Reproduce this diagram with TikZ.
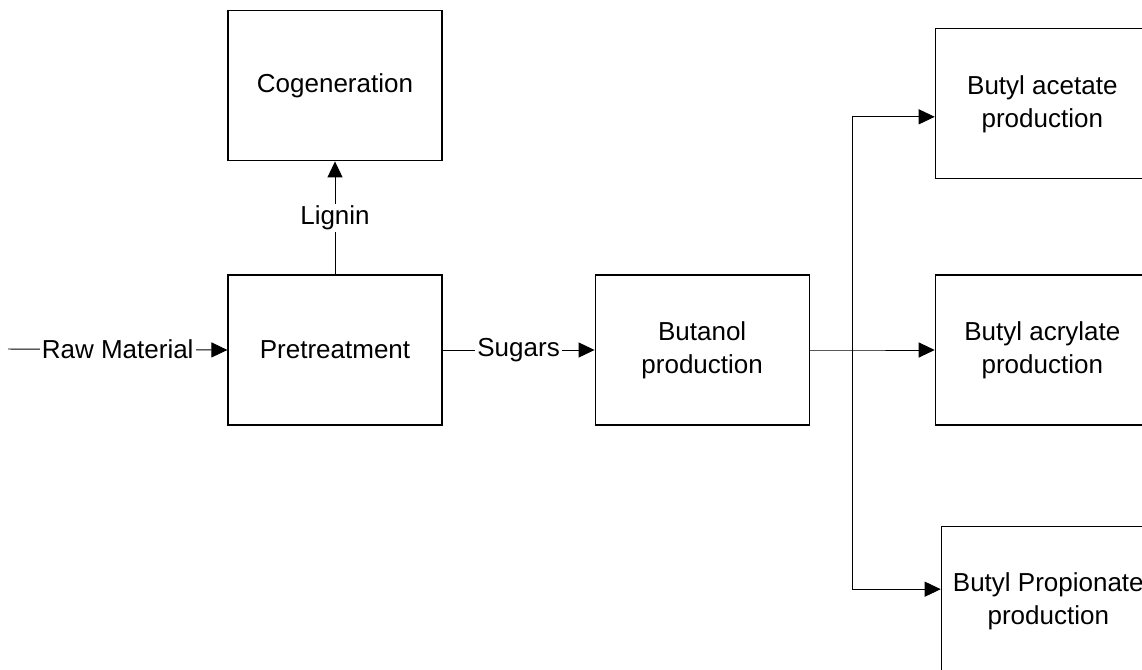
\documentclass[tikz,border=0pt]{standalone}
\usepackage{fontspec}
\setmainfont{Liberation Sans}
\usetikzlibrary{arrows.meta, positioning}

\begin{document}
\begin{tikzpicture}[
          x=0.02cm, y=-0.02cm,
          unit/.style={rectangle, draw=black, line width=0.7pt, fill=white,
                       minimum width=4.28cm, minimum height=3cm,
                       font=\fontsize{14.8}{18.8}\selectfont, align=center},
          flow/.style={-{Triangle[length=0.32cm, width=0.3cm]}, line width=0.55pt, draw=black},
          tag/.style={fill=white, inner sep=1.2pt, font=\fontsize{14.8}{18.8}\selectfont}
        ]
        \clip (0,0) rectangle (1142,669);
        \node[unit] (pre) at (335,350) {Pretreatment};
        \node[unit, above=2.26cm of pre] (cogen) {Cogeneration};
        \node[unit, right=3.04cm of pre] (buta) {Butanol\\production};
        \node[unit, right=2.5cm of buta] (acry) {Butyl acrylate\\production};
        \node[unit, above=1.9cm of acry] (acet) {Butyl acetate\\production};
        \node[unit, below=2cm of acry, xshift=0.12cm] (prop) {Butyl Propionate\\production};
        \coordinate (feed) at (8,349);
        \draw[flow] (feed) -- node[tag] {Raw Material} (pre.west);
        \draw[flow] (pre) -- node[tag] {Lignin} (cogen);
        \draw[flow] (pre) -- node[tag] {Sugars} (buta);
        \draw[flow] (buta.east) -- ++(0.86cm,0) coordinate (split) -- (acry.west);
        \draw[flow] (split) |- ([yshift=-0.26cm]acet.west);
        \draw[flow] (split) |- ([yshift=0.24cm]prop.west);
      \end{tikzpicture}
\end{document}
